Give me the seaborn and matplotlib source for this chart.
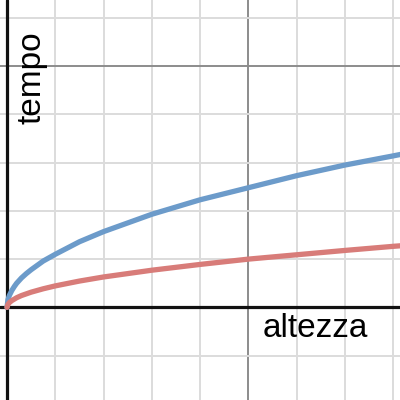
import numpy as np
import pandas as pd
import matplotlib
matplotlib.use("Agg")
import matplotlib.pyplot as plt
import seaborn as sns
from matplotlib.ticker import MultipleLocator

# values (altezza on x, tempo on y)
altezza = [0, 0.02, 0.05, 0.1, 0.15, 0.2, 0.3, 0.4, 0.5, 0.75, 1, 1.5, 2, 2.5, 3, 4, 5, 6, 7, 8, 8.2]
tempo_blu = [0, 0.16, 0.25, 0.35, 0.43, 0.50, 0.61, 0.70, 0.78, 0.96, 1.10, 1.36, 1.57,
             1.75, 1.93, 2.23, 2.48, 2.73, 2.95, 3.14, 3.18]
tempo_rosso = [0, 0.063, 0.10, 0.14, 0.17, 0.20, 0.245, 0.28, 0.315, 0.385, 0.445, 0.545,
               0.63, 0.70, 0.77, 0.89, 1.00, 1.09, 1.18, 1.265, 1.28]

df = pd.DataFrame({
    "altezza": altezza * 2,
    "tempo": tempo_blu + tempo_rosso,
    "serie": ["blu"] * len(altezza) + ["rosso"] * len(altezza),
})

sns.set_theme(style="white")
plt.rcParams['font.family'] = ['Liberation Sans', 'DejaVu Sans']

fig = plt.figure(figsize=(4, 4), dpi=100)
ax = fig.add_axes([0, 0, 1, 1])

ax.set_xlim(-0.145, 8.137)
ax.set_ylim(-1.92, 6.37)

ax.xaxis.set_major_locator(MultipleLocator(5))
ax.xaxis.set_minor_locator(MultipleLocator(1))
ax.yaxis.set_major_locator(MultipleLocator(5))
ax.yaxis.set_minor_locator(MultipleLocator(1))
ax.grid(which="minor", color="#dcdcdc", linewidth=1.4)
ax.grid(which="major", color="#8c8c8c", linewidth=1.4)
ax.set_axisbelow(True)
ax.tick_params(which="both", length=0, labelbottom=False, labelleft=False)
for s in ax.spines.values():
    s.set_visible(False)

ax.axhline(0, color="#111111", linewidth=2.3, zorder=2)
ax.axvline(0, color="#111111", linewidth=2.3, zorder=2)

sns.lineplot(data=df, x="altezza", y="tempo", hue="serie",
             palette={"blu": "#6c9bca", "rosso": "#d87c79"},
             linewidth=3.8, legend=False, ax=ax, zorder=3,
             solid_capstyle="round")
ax.set_xlabel("")
ax.set_ylabel("")

ax.text(0.7875, 0.178, "altezza", transform=ax.transAxes, fontsize=24,
        ha="center", va="center", color="black")
ax.text(0.08, 0.807, "tempo", transform=ax.transAxes, fontsize=24,
        ha="center", va="center", rotation=90, color="black")

fig.savefig("out.png", dpi=100)
